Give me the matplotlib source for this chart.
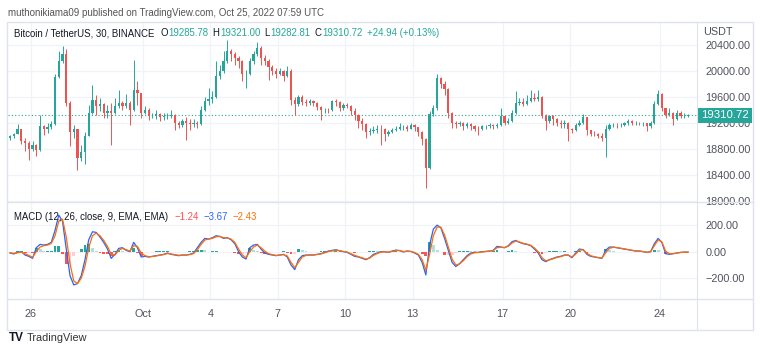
import numpy as np
import pandas as pd
import matplotlib
matplotlib.use("Agg")
import matplotlib.pyplot as plt
import matplotlib.dates as mdates
from matplotlib.patches import Rectangle
from matplotlib.lines import Line2D
from matplotlib.ticker import FuncFormatter
from matplotlib.transforms import blended_transform_factory

plt.rcParams['font.family'] = ['Liberation Sans', 'DejaVu Sans']

# BTC/USDT, 4h buckets from 2022-09-25 00:00
first_open = 18960
closes = [18990, 19030, 19100, 18920, 18880, 18800, 18850, 18780, 19150, 19100,
          19130, 19180, 19900, 20150, 20250, 19500, 19050, 19100, 18650, 18750,
          19000, 19350, 19550, 19450, 19480, 19350, 19380, 19350, 19450, 19500,
          19450, 19500, 19400, 19700, 19650, 19350, 19400, 19300, 19310, 19330,
          19280, 19300, 19310, 19320, 19200, 19160, 19220, 19200, 19180, 19200,
          19180, 19400, 19530, 19560, 19600, 19920, 20000, 20150, 20300, 20250,
          20200, 20150, 19950, 19950, 20150, 20250, 20350, 20200, 20150, 20050,
          19990, 19950, 19990, 19920, 20000, 19550, 19480, 19600, 19520, 19510,
          19530, 19500, 19440, 19400, 19400, 19390, 19530, 19520, 19420, 19470,
          19460, 19380, 19320, 19220, 19180, 19050, 19070, 19090, 19110, 19100,
          19020, 19050, 19080, 19110, 19140, 19140, 19110, 19160, 19130, 19050,
          18950, 18500, 19330, 19420, 19880, 19800, 19720, 19350, 19190, 19180,
          19190, 19150, 19180, 19150, 19110, 19100, 19150, 19150, 19170, 19150,
          19170, 19300, 19200, 19230, 19350, 19500, 19520, 19480, 19540, 19580,
          19570, 19600, 19310, 19230, 19300, 19250, 19200, 19180, 19200, 19100,
          19080, 19160, 19200, 19280, 19080, 19030, 19020, 18990, 18970, 19100,
          19170, 19170, 19160, 19170, 19190, 19230, 19200, 19200, 19190, 19190,
          19150, 19200, 19490, 19640, 19420, 19320, 19350, 19250, 19350, 19300,
          19310, 19310.72]
highs = [19015, 19045, 19180, 19100, 18960, 18920, 18913, 18870, 19313, 19170,
         19195, 19230, 19950, 20300, 20375, 20330, 19530, 19170, 19110, 18862,
         19050, 19477, 19785, 19631, 19579, 19500, 19477, 19500, 19579, 19708,
         19528, 19641, 19540, 20169, 19836, 19660, 19451, 19420, 19349, 19400,
         19350, 19349, 19349, 19400, 19330, 19230, 19260, 19280, 19250, 19250,
         19230, 19450, 19600, 19733, 19682, 20144, 20092, 20297, 20470, 20330,
         20280, 20230, 20170, 20010, 20195, 20297, 20441, 20380, 20240, 20180,
         20092, 20041, 20041, 20015, 20067, 20030, 19600, 19631, 19620, 19560,
         19560, 19550, 19520, 19460, 19426, 19426, 19554, 19570, 19530, 19510,
         19503, 19477, 19426, 19330, 19272, 19200, 19118, 19144, 19169, 19169,
         19118, 19092, 19118, 19144, 19195, 19169, 19169, 19195, 19180, 19140,
         19070, 18960, 19374, 19477, 19949, 19900, 19836, 19740, 19360, 19230,
         19220, 19210, 19210, 19200, 19170, 19150, 19169, 19170, 19190, 19180,
         19190, 19426, 19310, 19272, 19400, 19682, 19579, 19579, 19631, 19708,
         19656, 19708, 19610, 19340, 19323, 19320, 19270, 19246, 19240, 19210,
         19118, 19195, 19246, 19333, 19290, 19092, 19067, 19041, 19041, 19169,
         19195, 19200, 19190, 19190, 19210, 19250, 19240, 19225, 19210, 19210,
         19200, 19221, 19528, 19708, 19650, 19430, 19426, 19370, 19400, 19374,
         19349, 19330]
lows = [18938, 18964, 19030, 18870, 18760, 18630, 18760, 18680, 18770, 19015,
        19041, 19110, 19170, 19880, 20120, 19450, 18836, 18964, 18477, 18605,
        18564, 18990, 19340, 19323, 19374, 19272, 19272, 18851, 19340, 19426,
        19400, 19426, 19159, 19380, 19477, 19272, 19340, 19246, 19272, 19260,
        19221, 19246, 19260, 19270, 19092, 19118, 19130, 18940, 19092, 19130,
        19118, 19160, 19380, 19477, 19500, 19580, 19870, 19960, 20120, 20144,
        20092, 20041, 19836, 19733, 19930, 20100, 20220, 20092, 20092, 19862,
        19938, 19887, 19930, 19836, 19900, 19477, 19323, 19450, 19477, 19451,
        19477, 19451, 19400, 19246, 19349, 19349, 19380, 19451, 19374, 19400,
        19426, 19323, 19246, 19118, 19092, 18964, 19015, 19041, 19041, 18862,
        18913, 19000, 19041, 19067, 19092, 19092, 19067, 19100, 19067, 18990,
        18862, 18195, 18480, 19300, 19400, 19733, 19631, 19272, 19118, 19118,
        19144, 19092, 19118, 19092, 19067, 19015, 19092, 19108, 19118, 19108,
        19118, 19150, 19169, 19180, 19210, 19330, 19477, 19451, 19470, 19520,
        19528, 19540, 19272, 19092, 19200, 19169, 19144, 19118, 19118, 18913,
        19041, 19070, 19144, 19180, 19015, 18990, 19000, 18964, 18913, 18667,
        19090, 19128, 19118, 19128, 19144, 19170, 19159, 19159, 19159, 19144,
        19067, 19118, 19180, 19470, 19374, 19272, 19297, 19159, 19240, 19272,
        19272, 19282.81]

# MACD (12, 26, close, 9) and its signal line, same buckets
macd_line = [-10, -17, -5, 0, -25, -35, -50, 30, 55, 50,
             55, 70, 160, 275, 230, 20, -180, -250, -240, -180,
             -60, 90, 150, 145, 110, 70, 20, -50, -20, 25,
             30, 10, 0, 70, 30, -40, -35, -40, -35, -30,
             -25, -20, -10, -20, -25, -30, -25, -25, -20, -10,
             30, 70, 100, 95, 105, 120, 115, 100, 105, 90,
             60, 0, -40, -55, 30, 50, 55, 20, -10, -20,
             -25, -30, -25, -20, -40, -100, -135, -60, -30, -25,
             -25, -25, -20, -15, -5, 5, 10, 15, 5, 0,
             -5, -20, -35, -40, -50, -60, -45, -20, -10, 0,
             0, -5, 5, 12, 8, -2, 5, 2, -10, -25,
             -80, -175, 50, 170, 200, 180, 100, 10, -80, -112,
             -90, -60, -30, -10, -5, -5, 0, 2, 5, 10,
             40, 35, 30, 45, 75, 85, 70, 60, 55, 45,
             20, -10, -60, -75, -60, -50, -40, -35, -25, -25,
             -45, -10, 20, 15, -20, -35, -40, -45, -50, 10,
             35, 35, 30, 25, 20, 15, 10, 5, 5, 0,
             -5, 0, 60, 100, 70, -15, -20, -15, -10, -5,
             -3, -3.67]
signal_line = [-8, -12, -8, -3, -15, -28, -42, 0, 35, 45,
               50, 62, 120, 230, 245, 110, -90, -220, -240, -200,
               -110, 30, 120, 140, 120, 85, 40, -20, -25, 10,
               25, 15, 5, 45, 40, -10, -30, -38, -36, -32,
               -27, -22, -14, -17, -22, -27, -26, -25, -22, -14,
               15, 55, 88, 95, 100, 112, 115, 105, 104, 95,
               70, 20, -25, -45, 0, 35, 50, 30, 5, -15,
               -22, -28, -26, -22, -32, -80, -120, -80, -40, -28,
               -25, -25, -21, -17, -8, 1, 7, 12, 8, 2,
               -3, -15, -28, -37, -46, -56, -48, -28, -14, -3,
               -1, -4, 2, 9, 9, 1, 3, 2, -6, -20,
               -60, -140, -20, 120, 185, 185, 125, 35, -55, -100,
               -92, -68, -38, -17, -8, -6, -2, 1, 4, 8,
               30, 34, 31, 41, 65, 80, 73, 63, 57, 48,
               28, 0, -45, -68, -62, -53, -43, -37, -28, -26,
               -40, -18, 12, 14, -12, -30, -38, -44, -48, -8,
               25, 33, 31, 26, 21, 16, 11, 6, 5, 1,
               -4, -1, 45, 88, 75, 5, -15, -15, -11, -6,
               -4, -2.43]

tick_dates = ['2022-09-26', '2022-10-01', '2022-10-04', '2022-10-07', '2022-10-10',
              '2022-10-13', '2022-10-17', '2022-10-20', '2022-10-24']
tick_labels = ['26', 'Oct', '4', '7', '10', '13', '17', '20', '24']
price_ticks = [18000, 18400, 18800, 19200, 19600, 20000, 20400]
macd_ticks = [-200, 0, 200]

UP, DOWN = '#26a69a', '#ef5350'
GRID, BORDER = '#f0f3fa', '#e0e3eb'
TXT, AXTXT = '#131722', '#50535e'

W, H = 760, 346
fig = plt.figure(figsize=(W / 100, H / 100), dpi=100, facecolor='white')


def fx(px):
    return px / W


def fy(py):
    return 1 - py / H


times = pd.date_range('2022-09-25', periods=len(closes), freq='4h')
x = mdates.date2num(times) + 1 / 12
opens = [first_open] + closes[:-1]
t0 = mdates.date2num(pd.Timestamp('2022-09-25'))

ax = fig.add_axes([fx(8), fy(202), (697 - 8) / W, 180 / H])
ax2 = fig.add_axes([fx(8), fy(299), (697 - 8) / W, 97 / H], sharex=ax)

for a in (ax, ax2):
    a.set_facecolor('white')
    for s in a.spines.values():
        s.set_visible(False)
    a.grid(True, color=GRID, lw=0.9)
    a.set_axisbelow(True)
    a.yaxis.tick_right()
    a.tick_params(axis='y', length=0, pad=6, labelsize=7.8, labelcolor=AXTXT)

ax.set_xlim(t0 - 0.009, t0 + 30.648)

# candles
up = np.array(closes) >= np.array(opens)
cols = np.where(up, UP, DOWN)
ax.vlines(x, lows, highs, colors=cols, lw=0.7, zorder=3)
ax.bar(x, np.array(closes) - np.array(opens), bottom=opens, width=0.1,
       color=cols, linewidth=0, zorder=4)
ax.set_ylim(17980, 20749)
ax.set_yticks(price_ticks)
ax.yaxis.set_major_formatter(FuncFormatter(lambda v, p: f'{v:.2f}'))
ax.tick_params(axis='x', length=0, labelbottom=False)

# last price line and tag
last = closes[-1]
ax.axhline(last, color=UP, lw=0.8, ls=(0, (1, 2)), zorder=2)
tr = blended_transform_factory(ax.transAxes, ax.transData)
ax.add_patch(Rectangle((1.0, last - 7.5 * 15.385), 55 / 689, 15 * 15.385,
                       transform=tr, facecolor=UP, edgecolor='none',
                       clip_on=False, zorder=10))
ax.text(1.0 + 27.5 / 689, last, f'{last:.2f}', transform=tr, color='white',
        fontsize=8.2, ha='center', va='center', clip_on=False, zorder=11)

# MACD pane
hist = np.array(macd_line) - np.array(signal_line)
prev = np.concatenate([[hist[0]], hist[:-1]])
hcols = np.where(hist >= 0,
                 np.where(hist >= prev, '#26a69a', '#b2dfdb'),
                 np.where(hist < prev, '#ff5252', '#ffcdd2'))
ax2.bar(x, hist, width=0.13, color=hcols, linewidth=0, zorder=2)
ax2.plot(x, macd_line, color='#2962ff', lw=0.9, zorder=3)
ax2.plot(x, signal_line, color='#ff6d00', lw=0.9, zorder=3)
ax2.set_ylim(-356, 374)
ax2.set_yticks(macd_ticks)
ax2.yaxis.set_major_formatter(FuncFormatter(lambda v, p: f'{v:.2f}'.replace('-', '\u2212')))
ax2.set_xticks(mdates.date2num(pd.to_datetime(tick_dates)))
ax2.set_xticklabels(tick_labels)
ax2.tick_params(axis='x', length=0, pad=7.5, labelsize=7.8, labelcolor=AXTXT)

# frame and separators
fig.add_artist(Rectangle((fx(7), fy(330)), (753 - 7) / W, (330 - 22) / H,
                         transform=fig.transFigure, fill=False,
                         edgecolor=BORDER, lw=1))
for yy in (202, 299):
    fig.add_artist(Line2D([fx(7), fx(753)], [fy(yy), fy(yy)], color=BORDER, lw=1))
fig.add_artist(Line2D([fx(697), fx(697)], [fy(22), fy(330)], color=BORDER, lw=0.8))


def text_run(px, py, parts, size):
    renderer = fig.canvas.get_renderer()
    for s, color, gap in parts:
        t = fig.text(fx(px), fy(py), s, color=color, fontsize=size,
                     ha='left', va='center')
        px += t.get_window_extent(renderer=renderer).width + gap


fig.text(fx(8), fy(12.5), 'muthonikiama09 published on TradingView.com, Oct 25, 2022 07:59 UTC',
         fontsize=7.0, color='#555555', va='center')
fig.text(fx(703), fy(32), 'USDT', fontsize=7.8, color=AXTXT, va='center')

text_run(14, 33, [('Bitcoin / TetherUS, 30, BINANCE', TXT, 6),
                  ('O', TXT, 0.3), ('19285.78', UP, 4.5),
                  ('H', TXT, 0.3), ('19321.00', UP, 4.5),
                  ('L', TXT, 0.3), ('19282.81', UP, 4.5),
                  ('C', TXT, 0.3), ('19310.72', UP, 4),
                  ('+24.94 (+0.13%)', UP, 0)], 6.9)
text_run(14, 217, [('MACD (12, 26, close, 9, EMA, EMA)', TXT, 6),
                   ('\u22121.24', '#ff5252', 5),
                   ('\u22123.67', '#2962ff', 5),
                   ('\u22122.43', '#ff6d00', 0)], 6.9)

# footer mark
fig.text(fx(9), fy(338), 'TV', fontsize=8.5, fontweight='bold', color=TXT, va='center')
fig.text(fx(27), fy(338), 'TradingView', fontsize=7.8, color='#333333', va='center')

fig.savefig('out.png', dpi=100, facecolor='white')
